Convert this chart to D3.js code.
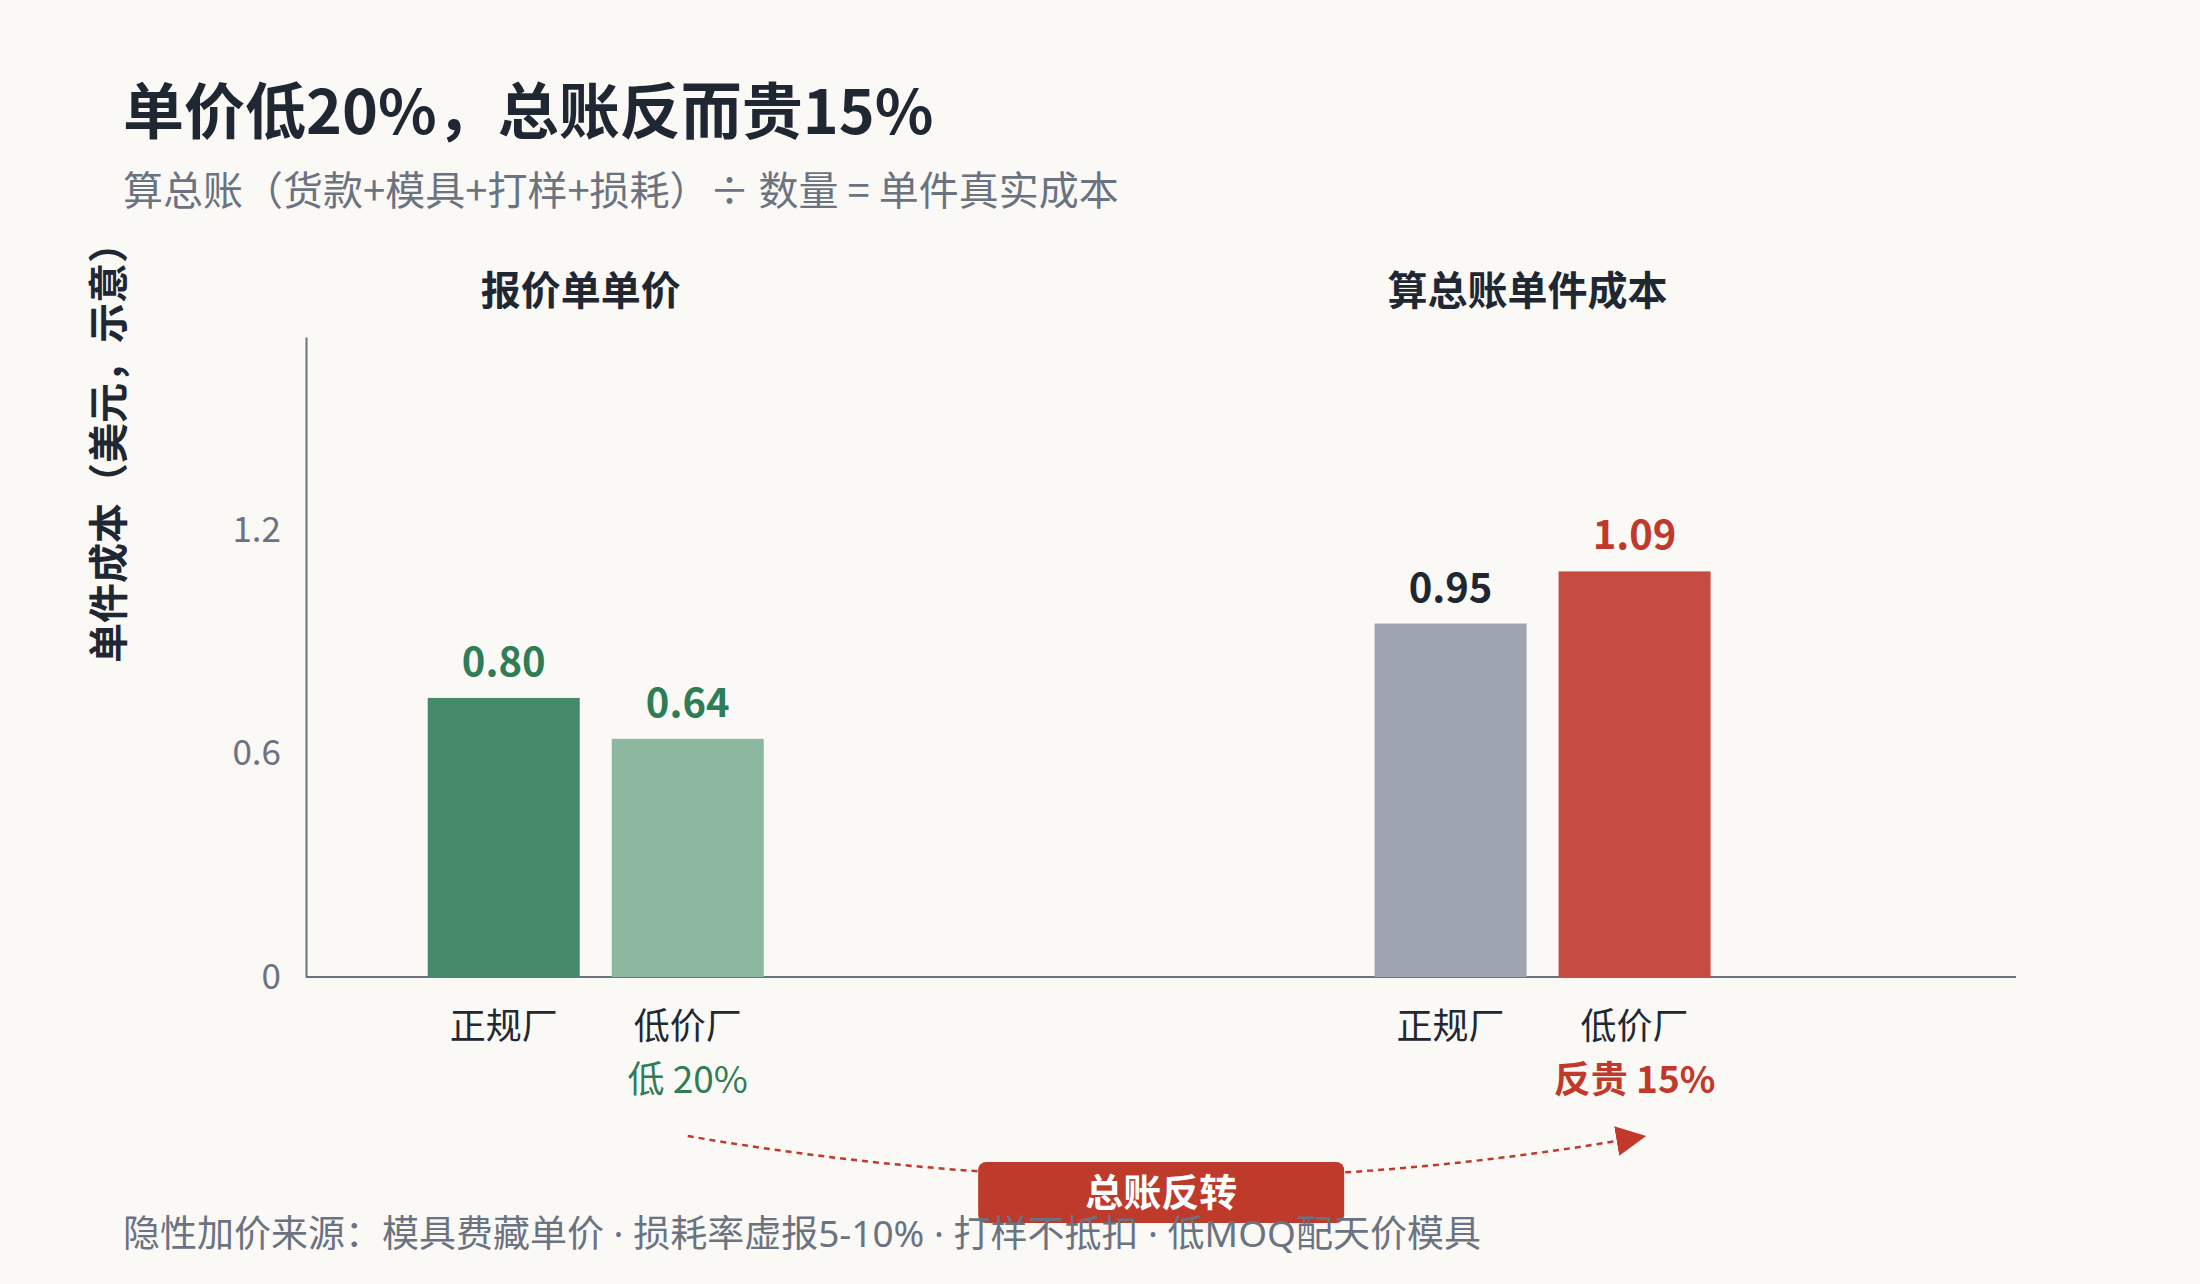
<!DOCTYPE html>
<html>
<head>
<meta charset="utf-8">
<script src="https://cdn.jsdelivr.net/npm/d3@7"></script>
<style>
  html, body { margin: 0; padding: 0; background: #faf9f6; }
  svg { display: block; font-family: "Noto Sans CJK SC", "Noto Sans", sans-serif; }
</style>
</head>
<body>
<div id="chart"></div>
<script>
// data
var groups = ["报价单单价", "算总账单件成本"];
var factories = ["正规厂", "低价厂"];
var barValues = [[0.75, 0.64], [0.95, 1.09]];
var valueLabels = [["0.80", "0.64"], ["0.95", "1.09"]];
var noteLabels = [["", "低 20%"], ["", "反贵 15%"]];
var yTicks = [0, 0.6, 1.2];
var yMax = 1.72;

var barColors = [["#448a6b", "#8cb8a0"], ["#9ea5b0", "#c44c41"]];
var labelColors = [["#2e7d57", "#2e7d57"], ["#1f2733", "#c0392b"]];
var noteColors = [["#2e7d57", "#2e7d57"], ["#c0392b", "#c0392b"]];

var svgWidth = 2200, svgHeight = 1284;
var margin = { top: 337, left: 306, right: 184, bottom: 307 };
var plotBottom = svgHeight - margin.bottom;
var plotRight = svgWidth - margin.right;
var latinFirst = "'Noto Sans', 'Noto Sans CJK SC', sans-serif";

var svg = d3.select("#chart").append("svg")
    .attr("width", svgWidth)
    .attr("height", svgHeight);

svg.append("rect").attr("width", svgWidth).attr("height", svgHeight).attr("fill", "#faf9f6");

// title + subtitle
svg.append("text")
    .attr("x", 123).attr("y", 134)
    .attr("font-size", 61).attr("font-weight", 700).attr("fill", "#1f2733")
    .text("单价低20%，总账反而贵15%");

svg.append("text")
    .attr("x", 123).attr("y", 205)
    .attr("font-size", 40).attr("fill", "#6b7280")
    .text("算总账（货款+模具+打样+损耗）÷ 数量 = 单件真实成本");

// scales
var x = d3.scaleLinear().domain([-0.306, 1.5]).range([margin.left, plotRight]);
var inner = d3.scaleBand().domain(factories).range([-168, 168]).paddingInner(0.174);
var y = d3.scaleLinear().domain([0, yMax]).range([plotBottom, margin.top]);

// y axis
var yAxis = svg.append("g")
    .attr("transform", "translate(" + margin.left + ",0)")
    .call(d3.axisLeft(y).tickValues(yTicks).tickSize(0).tickSizeOuter(0).tickPadding(25)
        .tickFormat(function (d) { return d === 0 ? "0" : d3.format(".1f")(d); }));
yAxis.select(".domain").attr("stroke", "#6b7280").attr("stroke-width", 2);
yAxis.selectAll("text")
    .attr("font-size", 35).attr("fill", "#6b7280")
    .attr("font-family", "Noto Sans CJK SC");

// x baseline
svg.append("line")
    .attr("x1", x.range()[0]).attr("x2", x.range()[1])
    .attr("y1", y(0)).attr("y2", y(0))
    .attr("stroke", "#6b7280").attr("stroke-width", 2);

// y label
svg.append("text")
    .attr("transform", "translate(123,443) rotate(-90)")
    .attr("text-anchor", "middle")
    .attr("font-size", 40).attr("font-weight", 700).attr("fill", "#1f2733")
    .text("单件成本（美元，示意）");

// groups
groups.forEach(function (gName, gi) {
    var cx = x(gi);
    svg.append("text")
        .attr("x", cx - 15).attr("y", 305)
        .attr("text-anchor", "middle")
        .attr("font-size", 40).attr("font-weight", 700).attr("fill", "#1f2733")
        .text(gName);

    factories.forEach(function (f, fi) {
        var bx = cx + inner(f);
        var bw = inner.bandwidth();
        var v = barValues[gi][fi];
        svg.append("rect")
            .attr("x", bx).attr("width", bw)
            .attr("y", y(v)).attr("height", y(0) - y(v))
            .attr("fill", barColors[gi][fi]);

        svg.append("text")
            .attr("x", bx + bw / 2).attr("y", y(v) - 22)
            .attr("text-anchor", "middle")
            .attr("font-size", 40).attr("font-weight", 700)
            .attr("fill", labelColors[gi][fi])
            .text(valueLabels[gi][fi]);

        svg.append("text")
            .attr("x", bx + bw / 2).attr("y", y(0) + 62)
            .attr("text-anchor", "middle")
            .attr("font-size", 36).attr("fill", "#222831")
            .text(f);

        if (noteLabels[gi][fi]) {
            svg.append("text")
                .attr("x", bx + bw / 2).attr("y", y(0) + 116)
                .attr("text-anchor", "middle")
                .attr("font-size", 37)
                .attr("font-weight", gi === 1 ? 700 : 400)
                .attr("fill", noteColors[gi][fi])
                .text(noteLabels[gi][fi]);
        }
    });
});

// arrow from cheap factory quote to cheap factory total
var defs = svg.append("defs");
defs.append("marker")
    .attr("id", "arrow")
    .attr("viewBox", "0 0 10 10")
    .attr("refX", 2).attr("refY", 5)
    .attr("markerWidth", 30).attr("markerHeight", 30)
    .attr("markerUnits", "userSpaceOnUse")
    .attr("orient", "auto")
    .append("path").attr("d", "M0,0 L10,5 L0,10 Z").attr("fill", "#c0392b");

var x0 = x(0) + inner("低价厂") + inner.bandwidth() / 2;
var x1 = x(1) + inner("低价厂") + inner.bandwidth() / 2;
var arrowPath = d3.path();
arrowPath.moveTo(x0, 1136);
arrowPath.quadraticCurveTo((x0 + x1) / 2, 1218, x1 - 12, 1140);
svg.append("path")
    .attr("d", arrowPath.toString())
    .attr("fill", "none")
    .attr("stroke", "#c0392b").attr("stroke-width", 2.5)
    .attr("stroke-dasharray", "6,5")
    .attr("marker-end", "url(#arrow)");

// badge
var bcx = (x0 + x1) / 2;
svg.append("rect")
    .attr("x", bcx - 183).attr("y", 1162)
    .attr("width", 366).attr("height", 61)
    .attr("rx", 8)
    .attr("fill", "#be3a2b");
svg.append("text")
    .attr("x", bcx).attr("y", 1206)
    .attr("text-anchor", "middle")
    .attr("font-size", 38).attr("font-weight", 700).attr("fill", "#ffffff")
    .text("总账反转");

// footer (sits over the badge, as in the source)
svg.append("text")
    .attr("x", 123).attr("y", 1247)
    .attr("font-family", latinFirst)
    .attr("font-size", 37).attr("fill", "#6b7280")
    .text("隐性加价来源：模具费藏单价 · 损耗率虚报5-10% · 打样不抵扣 · 低MOQ配天价模具");
</script>
</body>
</html>
